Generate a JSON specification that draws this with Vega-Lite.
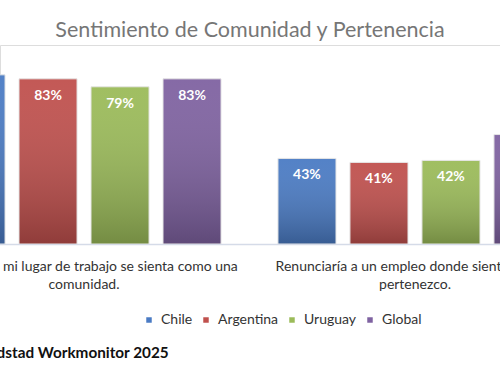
{
  "$schema": "https://vega.github.io/schema/vega-lite/v6.json",
  "width": 500,
  "height": 199,
  "autosize": "none",
  "padding": {"left": 0, "top": 45, "right": 0, "bottom": 136},
  "background": "white",
  "title": {
    "text": "Sentimiento de Comunidad y Pertenencia",
    "font": "Lato",
    "fontSize": 21.5,
    "fontWeight": "normal",
    "color": "#767676",
    "anchor": "middle",
    "baseline": "alphabetic",
    "offset": -13
  },
  "data": {
    "values": [
      {"statement": "Quiero que mi lugar de trabajo se sienta como una\ncomunidad.", "country": "Chile", "value": 0.85},
      {"statement": "Quiero que mi lugar de trabajo se sienta como una\ncomunidad.", "country": "Argentina", "value": 0.83},
      {"statement": "Quiero que mi lugar de trabajo se sienta como una\ncomunidad.", "country": "Uruguay", "value": 0.79},
      {"statement": "Quiero que mi lugar de trabajo se sienta como una\ncomunidad.", "country": "Global", "value": 0.83},
      {"statement": "Renunciaría a un empleo donde sienta que no\npertenezco.", "country": "Chile", "value": 0.43},
      {"statement": "Renunciaría a un empleo donde sienta que no\npertenezco.", "country": "Argentina", "value": 0.41},
      {"statement": "Renunciaría a un empleo donde sienta que no\npertenezco.", "country": "Uruguay", "value": 0.42},
      {"statement": "Renunciaría a un empleo donde sienta que no\npertenezco.", "country": "Global", "value": 0.55}
    ]
  },
  "encoding": {
    "x": {
      "field": "statement",
      "type": "nominal",
      "sort": null,
      "scale": {"range": [-53, 552], "paddingInner": 0.172, "paddingOuter": 0},
      "axis": {
        "labelAngle": 0,
        "labelExpr": "split(datum.label, '\\n')",
        "labelFont": "Lato",
        "labelFontSize": 14,
        "labelLineHeight": 18,
        "labelPadding": 15,
        "labelColor": "#333333",
        "labelLimit": 500,
        "labelOverlap": false,
        "ticks": false,
        "domainColor": "#d5dbe8",
        "domainWidth": 1.5,
        "title": "Randstad Workmonitor 2025",
        "titleFont": "Lato",
        "titleFontSize": 15.3,
        "titleFontWeight": "bold",
        "titleColor": "#111111",
        "titleAnchor": "start",
        "titleAlign": "left",
        "titleBaseline": "middle",
        "titleX": -30,
        "titleY": 108
      }
    },
    "xOffset": {
      "field": "country",
      "type": "nominal",
      "sort": ["Chile", "Argentina", "Uruguay", "Global"],
      "scale": {"paddingInner": 0.194, "paddingOuter": 0}
    },
    "y": {
      "field": "value",
      "type": "quantitative",
      "scale": {"domain": [0, 1]},
      "axis": null
    }
  },
  "layer": [
    {
      "mark": {"type": "bar", "clip": true},
      "encoding": {
        "color": {
          "field": "country",
          "type": "nominal",
          "sort": ["Chile", "Argentina", "Uruguay", "Global"],
          "scale": {
            "domain": ["Chile", "Argentina", "Uruguay", "Global"],
            "range": ["#4a7bc4", "#c0504d", "#9bbb59", "#7f62a1"]
          },
          "legend": {
            "orient": "none",
            "legendX": 142,
            "legendY": 268,
            "direction": "horizontal",
            "title": null,
            "symbolType": "square",
            "symbolSize": 30,
            "symbolStrokeWidth": 0,
            "labelFont": "Lato",
            "labelFontSize": 14,
            "labelColor": "#333333",
            "labelOffset": 5,
            "columnPadding": 6
          }
        }
      }
    },
    {
      "mark": {
        "type": "bar",
        "clip": true,
        "stroke": "#e6e6e6",
        "strokeWidth": 1,
        "fill": {
          "gradient": "linear",
          "x1": 0, "y1": 0, "x2": 0, "y2": 1,
          "stops": [
            {"offset": 0, "color": "rgba(255,255,255,0.05)"},
            {"offset": 1, "color": "rgba(0,0,0,0.25)"}
          ]
        }
      }
    },
    {
      "mark": {
        "type": "text",
        "clip": true,
        "color": "white",
        "font": "Lato",
        "fontSize": 14,
        "fontWeight": "bold",
        "baseline": "middle",
        "dy": 17
      },
      "encoding": {
        "text": {"field": "value", "type": "quantitative", "format": ".0%"}
      }
    }
  ]
}
